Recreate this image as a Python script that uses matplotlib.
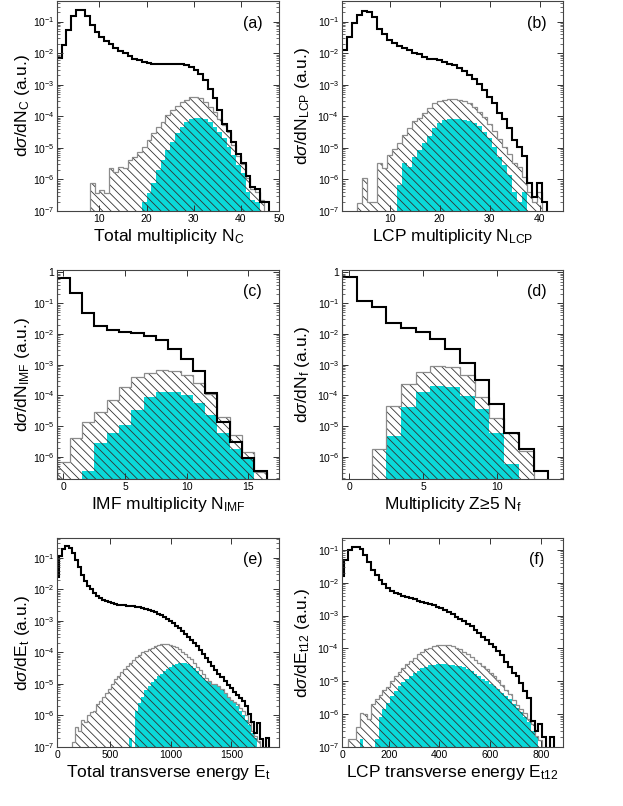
import numpy as np
import matplotlib
matplotlib.use("Agg")
import matplotlib.pyplot as plt
from matplotlib.ticker import LogLocator, FuncFormatter, NullFormatter

plt.rcParams['font.family'] = ['Liberation Sans', 'DejaVu Sans']
plt.rcParams['mathtext.fontset'] = 'custom'
plt.rcParams['mathtext.rm'] = 'Liberation Sans'
plt.rcParams['mathtext.it'] = 'Liberation Sans:italic'
plt.rcParams['mathtext.sf'] = 'Liberation Sans'
plt.rcParams['hatch.linewidth'] = 0.6

# values are log10 of dsigma/dX, -9 = empty bin

# (a) total multiplicity, bins of width 1
a_width = 1
a_black_start = 1
a_black = [-2.14, -1.75, -1.27, -0.82, -0.64, -0.64, -0.82, -1.11, -1.32, -1.48,
           -1.61, -1.71, -1.85, -1.93, -2.01, -2.08, -2.17, -2.22, -2.27, -2.31,
           -2.33, -2.33, -2.33, -2.33, -2.33, -2.33, -2.35, -2.38, -2.43, -2.54,
           -2.66, -2.85, -3.12, -3.43, -3.80, -4.23, -4.45, -4.82, -5.20, -5.49,
           -5.90, -6.23, -6.30, -6.70, -6.70]
a_hatch_start = 8
a_hatch = [-6.10, -6.42, -6.34, -6.42, -5.65, -5.76, -5.60, -5.65, -5.39, -5.28,
           -5.12, -4.96, -4.75, -4.54, -4.33, -4.17, -3.96, -3.80, -3.68, -3.54,
           -3.47, -3.40, -3.38, -3.43, -3.54, -3.70, -3.86, -4.07, -4.28, -4.49,
           -4.90, -5.25, -5.50, -5.95, -6.30, -6.40, -6.65]
a_cyan_start = 19
a_cyan = [-6.70, -6.42, -6.10, -5.70, -5.39, -5.07, -4.81, -4.54, -4.33, -4.17,
          -4.07, -4.04, -4.04, -4.07, -4.17, -4.33, -4.49, -4.70, -4.96, -5.23,
          -5.54, -5.81, -6.39, -6.65, -6.70]

# (b) LCP multiplicity
b_width = 1
b_black_start = 0.5
b_black = [-1.90, -1.48, -1.06, -0.80, -0.67, -0.70, -0.85, -1.22, -1.38, -1.57,
           -1.67, -1.78, -1.83, -1.91, -1.98, -2.04, -2.12, -2.17, -2.20, -2.23,
           -2.27, -2.33, -2.38, -2.46, -2.57, -2.70, -2.83, -2.99, -3.17, -3.38,
           -3.59, -3.89, -4.10, -4.38, -4.75, -4.96, -5.26, -6.10, -6.55, -6.10,
           -6.70]
b_hatch_start = 3.5
b_hatch = [-6.75, -5.97, -6.70, -6.70, -5.49, -5.65, -5.23, -5.02, -4.86, -4.59,
           -4.38, -4.14, -4.04, -3.89, -3.73, -3.59, -3.51, -3.47, -3.45, -3.45,
           -3.47, -3.51, -3.59, -3.70, -3.86, -4.01, -4.23, -4.46, -4.73, -4.96,
           -5.20, -5.47, -5.60, -5.91, -6.39, -6.70, -6.39]
b_cyan_start = 11.5
b_cyan = [-6.18, -5.49, -5.60, -5.28, -5.07, -4.86, -4.63, -4.38, -4.20, -4.12,
          -4.10, -4.10, -4.10, -4.12, -4.14, -4.20, -4.31, -4.49, -4.70, -4.96,
          -5.28, -5.54, -5.86, -6.39, -6.70, -6.39]

# (c) IMF multiplicity
c_width = 1
c_black_start = -0.5
c_black = [-0.19, -0.68, -1.33, -1.73, -1.87, -1.93, -1.98, -2.07, -2.20, -2.49,
           -2.82, -3.21, -3.92, -4.86, -5.53, -6.03, -6.46]
c_hatch_start = -0.5
c_hatch = [-6.16, -5.40, -4.86, -4.53, -4.15, -3.72, -3.39, -3.26, -3.18, -3.20,
           -3.34, -3.61, -3.94, -4.70, -5.30, -5.84, -6.50]
c_cyan_start = 1.5
c_cyan = [-6.46, -5.54, -5.24, -4.97, -4.48, -4.05, -3.90, -3.90, -3.99, -4.26,
          -4.64, -5.22, -5.76, -6.05]

# (d) fragment multiplicity Z>=5
d_width = 1
d_black_start = -0.5
d_black = [-0.16, -0.93, -1.14, -1.66, -1.82, -1.93, -2.18, -2.50, -2.94, -3.50,
           -4.28, -5.22, -5.73, -6.46]
d_hatch_start = 1.5
d_hatch = [-5.76, -4.35, -3.63, -3.23, -3.05, -3.09, -3.34, -4.05, -4.75, -5.24,
           -5.80]
d_cyan_start = 2.5
d_cyan = [-5.33, -4.37, -3.88, -3.70, -3.74, -4.02, -4.45, -5.24, -6.24]

# (e) total transverse energy, bins of width 25
e_width = 25
e_black_start = 60
e_black = [-1.60, -0.95, -0.70, -0.62, -0.68, -0.85, -1.05, -1.30, -1.55, -1.72,
           -1.88, -2.00, -2.12, -2.20, -2.27, -2.33, -2.37, -2.41, -2.44, -2.46,
           -2.48, -2.49, -2.50, -2.51, -2.52, -2.53, -2.55, -2.57, -2.59, -2.62,
           -2.65, -2.68, -2.72, -2.77, -2.82, -2.87, -2.93, -3.00, -3.07, -3.15,
           -3.23, -3.31, -3.40, -3.50, -3.60, -3.70, -3.80, -3.92, -4.05, -4.17,
           -4.30, -4.42, -4.55, -4.68, -4.78, -4.92, -5.02, -5.12, -5.25, -5.35,
           -5.45, -5.55, -5.70, -5.95, -6.20, -6.55, -6.25, -6.75, -9.00, -6.70]
e_hatch_start = 185
e_hatch = [-6.85, -6.35, -6.50, -6.15, -6.20, -6.00, -5.90, -5.85, -5.65, -5.55,
           -5.40, -5.30, -5.15, -5.00, -4.85, -4.75, -4.62, -4.52, -4.42, -4.32,
           -4.25, -4.15, -4.08, -4.00, -3.95, -3.90, -3.85, -3.80, -3.76, -3.72,
           -3.72, -3.73, -3.76, -3.80, -3.84, -3.90, -3.97, -4.05, -4.13, -4.22,
           -4.32, -4.45, -4.55, -4.68, -4.82, -4.92, -5.00, -5.00, -5.05, -5.15,
           -5.30, -5.40, -5.50, -5.58, -5.65, -5.75, -5.85, -6.00, -6.20, -6.50,
           -6.65, -6.80]
e_cyan_start = 660
e_cyan = [-6.70, -9.00, -5.85, -5.60, -5.40, -5.20, -5.07, -4.95, -4.85, -4.75,
          -4.68, -4.60, -4.53, -4.47, -4.40, -4.36, -4.33, -4.33, -4.34, -4.37,
          -4.42, -4.50, -4.60, -4.72, -4.82, -4.90, -4.95, -5.00, -5.03, -5.07,
          -5.16, -5.32, -5.42, -5.52, -5.60, -5.70, -5.85, -6.00, -6.15, -6.30,
          -6.55, -6.70]

# (f) LCP transverse energy, bins of width 15
f_width = 15
f_black_start = 10
f_black = [-1.80, -1.30, -1.00, -0.91, -0.90, -0.98, -1.15, -1.38, -1.60, -1.77,
           -1.92, -2.05, -2.15, -2.24, -2.30, -2.35, -2.39, -2.43, -2.47, -2.51,
           -2.55, -2.58, -2.62, -2.66, -2.69, -2.74, -2.78, -2.83, -2.89, -2.96,
           -3.03, -3.10, -3.17, -3.25, -3.33, -3.43, -3.54, -3.64, -3.74, -3.86,
           -3.97, -4.08, -4.20, -4.40, -4.55, -4.75, -4.85, -5.05, -5.30, -5.50,
           -6.20, -6.50, -6.30, -6.70, -9.00, -6.70]
f_hatch_start = 40
f_hatch = [-6.75, -6.75, -6.40, -5.95, -6.00, -6.15, -5.70, -5.55, -5.42, -5.28,
           -5.17, -5.00, -4.85, -4.72, -4.60, -4.48, -4.38, -4.28, -4.18, -4.10,
           -4.03, -3.98, -3.94, -3.91, -3.90, -3.90, -3.91, -3.94, -3.98, -4.03,
           -4.10, -4.18, -4.26, -4.36, -4.45, -4.54, -4.63, -4.74, -4.85, -4.95,
           -5.10, -5.25, -5.40, -5.57, -5.73, -5.85, -5.95, -6.15, -6.30, -6.65,
           -6.80]
f_cyan_start = 85
f_cyan = [-6.75, -9.00, -9.00, -9.00, -6.75, -6.10, -5.85, -5.66, -5.45, -5.30,
          -5.15, -5.02, -4.93, -4.83, -4.76, -4.68, -4.61, -4.55, -4.51, -4.49,
          -4.48, -4.48, -4.48, -4.49, -4.50, -4.52, -4.54, -4.58, -4.64, -4.70,
          -4.77, -4.85, -4.92, -5.00, -5.07, -5.15, -5.22, -5.35, -5.45, -5.55,
          -5.68, -5.80, -5.92, -6.10, -6.25, -6.50, -6.70]

# tick values of the x axes
a_xticks = [10, 20, 30, 40, 50]
b_xticks = [10, 20, 30, 40]
c_xticks = [0, 5, 10, 15]
d_xticks = [0, 5, 10]
e_xticks = [0, 500, 1000, 1500]
f_xticks = [0, 200, 400, 600, 800]

CYAN = '#0ad9d9'
HATCH = '\\\\\\\\'
BASE = 1e-9


def stairs_of(ax, start, width, exps, **kw):
    vals = 10.0 ** np.array(exps)
    edges = start + width * np.arange(len(exps) + 1)
    ax.stairs(vals, edges, baseline=BASE, **kw)


def ytick_fmt(v, pos):
    e = int(round(np.log10(v)))
    if e == 0:
        return '1'
    return r'$10^{%d}$' % e


def panel(ax, width, black, hatch, cyan, xlim, ylim, xticks, xlabel, ylabel, tag, ylab_x):
    # cyan selection first, hatched distribution over it, full data on top
    stairs_of(ax, cyan[0], width, cyan[1], fill=True, facecolor=CYAN, edgecolor='none', lw=0)
    stairs_of(ax, hatch[0], width, hatch[1], fill=True, facecolor='none',
              edgecolor='#333333', hatch=HATCH, lw=0)
    stairs_of(ax, hatch[0], width, hatch[1], fill=False, color='#8c8c8c', lw=0.9)
    stairs_of(ax, black[0], width, black[1], fill=False, color='black', lw=1.5)

    ax.set_yscale('log')
    ax.set_xlim(*xlim)
    ax.set_ylim(*ylim)

    # edge labels sit on the frame like in the original
    ax.set_xticks(np.clip(xticks, xlim[0], xlim[1]))
    ax.set_xticklabels([str(t) for t in xticks])
    ax.yaxis.set_major_locator(LogLocator(base=10, numticks=20))
    ax.yaxis.set_minor_locator(LogLocator(base=10, subs=np.arange(2, 10), numticks=100))
    ax.yaxis.set_major_formatter(FuncFormatter(ytick_fmt))
    ax.yaxis.set_minor_formatter(NullFormatter())

    ax.tick_params(which='both', direction='in', top=True, right=True,
                   labelsize=7.5, pad=2, color='#333333')
    ax.tick_params(which='major', length=4, width=0.7)
    ax.tick_params(which='minor', length=2, width=0.5)
    for s in ax.spines.values():
        s.set_color('#444444')
        s.set_linewidth(0.8)

    ax.set_xlabel(xlabel, fontsize=12.5)
    ax.set_ylabel(ylabel, fontsize=12.5)
    ax.xaxis.set_label_coords(0.5, -0.075)
    ax.yaxis.set_label_coords(ylab_x, 0.5)
    ax.text(0.88, 0.895, tag, transform=ax.transAxes, fontsize=11.5,
            ha='center', va='center')


fig = plt.figure(figsize=(6.23, 8.06), dpi=100)

left1, left2 = 0.092, 0.549
w1, w2 = 0.356, 0.355
rows = [(0.7382, 0.2606), (0.4057, 0.2593), (0.0732, 0.2593)]

ax = fig.add_axes([left1, rows[0][0], w1, rows[0][1]])
panel(ax, a_width, (a_black_start, a_black), (a_hatch_start, a_hatch), (a_cyan_start, a_cyan),
      (1.1, 48.1), (1e-7, 0.45), a_xticks,
      r'Total multiplicity N$_\mathregular{C}$', r'd$\sigma$/dN$_\mathregular{C}$ (a.u.)', '(a)', -0.115)

ax = fig.add_axes([left2, rows[0][0], w2, rows[0][1]])
panel(ax, b_width, (b_black_start, b_black), (b_hatch_start, b_hatch), (b_cyan_start, b_cyan),
      (0.5, 44.7), (1e-7, 0.45), b_xticks,
      r'LCP multiplicity N$_\mathregular{LCP}$', r'd$\sigma$/dN$_\mathregular{LCP}$ (a.u.)', '(b)', -0.137)

ax = fig.add_axes([left1, rows[1][0], w1, rows[1][1]])
panel(ax, c_width, (c_black_start, c_black), (c_hatch_start, c_hatch), (c_cyan_start, c_cyan),
      (-0.5, 17.5), (1.9e-7, 1.2), c_xticks,
      r'IMF multiplicity N$_\mathregular{IMF}$', r'd$\sigma$/dN$_\mathregular{IMF}$ (a.u.)', '(c)', -0.115)

ax = fig.add_axes([left2, rows[1][0], w2, rows[1][1]])
panel(ax, d_width, (d_black_start, d_black), (d_hatch_start, d_hatch), (d_cyan_start, d_cyan),
      (-0.5, 14.5), (1.9e-7, 1.2), d_xticks,
      'Multiplicity Z\u22655 N$_\\mathregular{f}$', r'd$\sigma$/dN$_\mathregular{f}$ (a.u.)', '(d)', -0.137)

ax = fig.add_axes([left1, rows[2][0], w1, rows[2][1]])
panel(ax, e_width, (e_black_start, e_black), (e_hatch_start, e_hatch), (e_cyan_start, e_cyan),
      (68, 1892), (1e-7, 0.43), e_xticks,
      r'Total transverse energy E$_\mathregular{t}$', r'd$\sigma$/dE$_\mathregular{t}$ (a.u.)', '(e)', -0.115)

ax = fig.add_axes([left2, rows[2][0], w2, rows[2][1]])
panel(ax, f_width, (f_black_start, f_black), (f_hatch_start, f_hatch), (f_cyan_start, f_cyan),
      (16, 888), (1e-7, 0.23), f_xticks,
      r'LCP transverse energy E$_\mathregular{t12}$', r'd$\sigma$/dE$_\mathregular{t12}$ (a.u.)', '(f)', -0.137)

fig.savefig('out.png', dpi=100)
